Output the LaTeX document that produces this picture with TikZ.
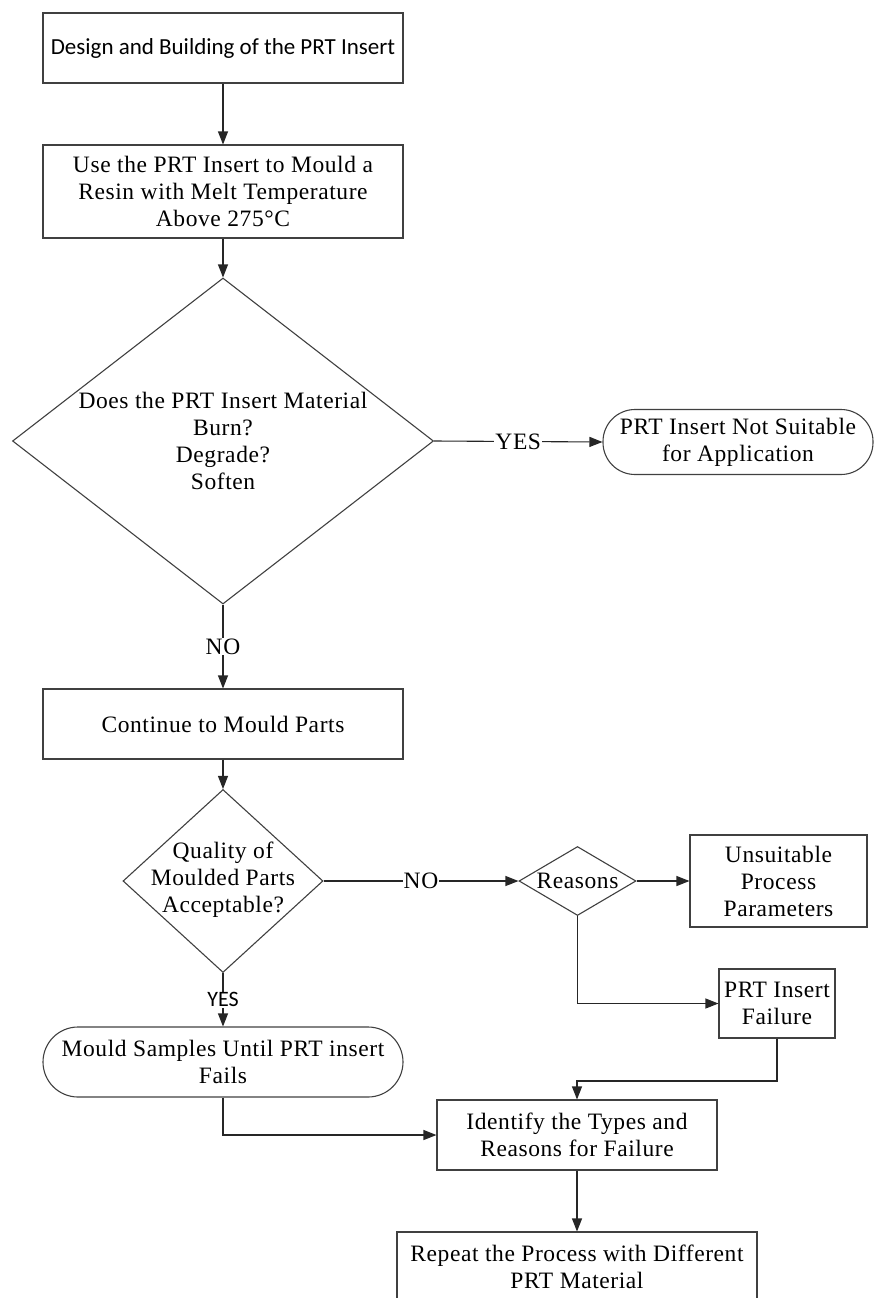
\documentclass[tikz,border=0pt]{standalone}
\usepackage{fontspec}
\setmainfont{Liberation Serif}[LetterSpace=2.5]
\newfontfamily\calfont{Carlito}
\usetikzlibrary{arrows.meta,shapes.geometric}
\begin{document}
\begin{tikzpicture}[x=1pt,y=-1pt,
  shapeline/.style={draw=black!75, line width=1.1pt, inner sep=0pt},
  box/.style={shapeline, rectangle, align=center, font=\fontsize{23.5}{27}\selectfont},
  stadium/.style={box, rounded corners=#1},
  dia/.style={shapeline, diamond},
  txt/.style={align=center, inner sep=0pt, font=\fontsize{23.5}{27}\selectfont},
  arr/.style={draw=black!85, line width=1.1pt, -{Triangle[length=13pt,width=10pt]}},
  lab/.style={fill=white, inner sep=1pt, font=\fontsize{23.5}{27}\selectfont},
  calab/.style={fill=white, inner sep=1pt, font=\calfont\fontsize{22}{26}\selectfont}
]
\useasboundingbox (0,0) rectangle (874,1298);
\clip (0,0) rectangle (874,1298);

% nodes
\node[box, minimum width=360pt, minimum height=70pt, font=\calfont\fontsize{23}{27}\selectfont] (b1) at (223,48) {Design and Building of the PRT Insert};
\node[box, minimum width=360pt, minimum height=93pt] (b2) at (223,191.5) {Use the PRT Insert to Mould a\\Resin with Melt Temperature\\Above 275°C};
\node[dia, minimum width=421pt, minimum height=326pt] (d1) at (223,441) {};
\node[txt] (d1t) at (223,441) {Does the PRT Insert Material\\Burn?\\Degrade?\\Soften};
\node[stadium=32pt, minimum width=270pt, minimum height=65pt] (s1) at (738,442) {PRT Insert Not Suitable\\for Application};
\node[box, minimum width=360pt, minimum height=70pt] (b3) at (223,724) {Continue to Mould Parts};
\node[dia, minimum width=200pt, minimum height=183pt] (d2) at (223,881) {};
\node[txt] (d2t) at (223,880) {Quality of\\Moulded Parts\\Acceptable?};
\node[dia, minimum width=117pt, minimum height=69pt] (r) at (577.5,881) {};
\node[txt] (rt) at (577.5,881) {Reasons};
\node[box, minimum width=177pt, minimum height=92pt] (u) at (778.5,881) {Unsuitable\\Process\\Parameters};
\node[box, minimum width=116pt, minimum height=69pt] (f) at (777,1003.5) {PRT Insert\\Failure};
\node[stadium=35pt, minimum width=360pt, minimum height=70pt] (m) at (223,1062) {Mould Samples Until PRT insert\\Fails};
\node[box, minimum width=280pt, minimum height=70pt] (i) at (577,1135) {Identify the Types and\\Reasons for Failure};
\node[box, minimum width=360pt, minimum height=70pt] (rep) at (577,1267) {Repeat the Process with Different\\PRT Material};
\coordinate (j1) at (777,1081);

% connectors
\draw[arr] (b1.south) -- (b2.north);
\draw[arr] (b2.south) -- (d1.north);
\draw[arr] (d1.east) -- node[lab] {YES} (s1.west);
\draw[arr] (d1.south) -- node[lab] {NO} (b3.north);
\draw[arr] (b3.south) -- (d2.north);
\draw[arr] (d2.east) -- node[lab] {NO} (r.west);
\draw[arr] (r.east) -- (u.west);
\draw[arr] (r.south) |- (f.west);
\draw[arr] (f.south) -- (j1) -| (i.north);
\draw[arr] (d2.south) -- node[calab] {YES} (m.north);
\draw[arr] (m.south) |- (i.west);
\draw[arr] (i.south) -- (rep.north);
\end{tikzpicture}
\end{document}
